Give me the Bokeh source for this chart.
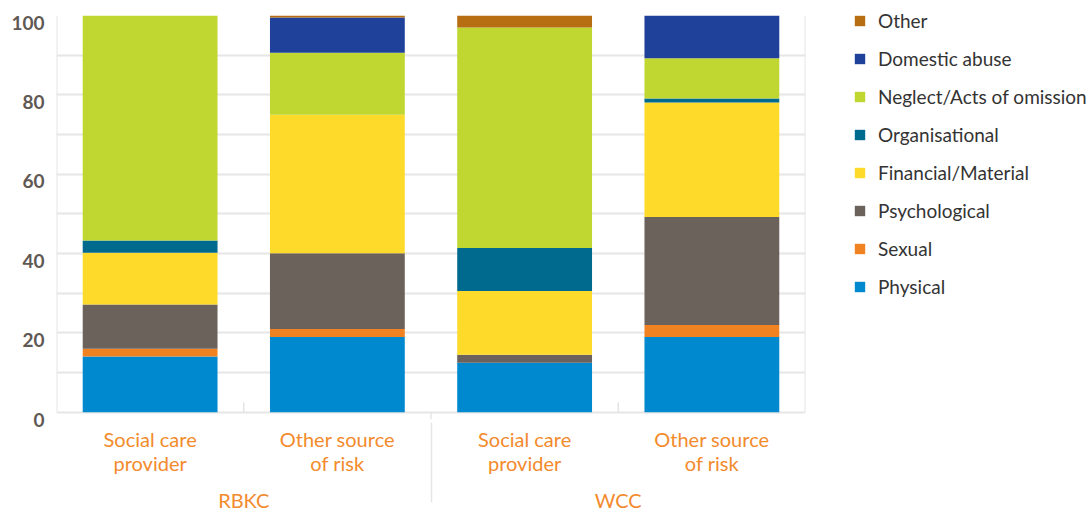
from bokeh.plotting import figure
from bokeh.models import (FactorRange, ColumnDataSource, Legend, LegendItem, Range1d,
                          FixedTicker, LinearAxis)
from bokeh.embed import file_html
from bokeh.resources import INLINE

# ---- data ----
councils = ["RBKC", "RBKC", "WCC", "WCC"]
sources = ["Social care\nprovider", "Other source\nof risk",
           "Social care\nprovider", "Other source\nof risk"]

series_names = ["Physical", "Sexual", "Psychological", "Financial/Material",
                "Organisational", "Neglect/Acts of omission", "Domestic abuse", "Other"]
physical = [14.1, 19.0, 12.5, 19.0]
sexual = [1.9, 2.0, 0.0, 3.0]
psychological = [11.2, 19.1, 2.0, 27.2]
financial = [13.0, 34.9, 16.1, 28.9]
organisational = [3.1, 0.0, 10.8, 1.0]
neglect = [56.7, 15.6, 55.6, 10.1]
domestic = [0.0, 8.9, 0.0, 10.8]
other = [0.0, 0.5, 3.0, 0.0]

y_ticks = [0, 20, 40, 60, 80, 100]
grid_ticks = [0, 10, 20, 30, 40, 50, 60, 70, 80, 90, 100]

colors = ["#0089cf", "#f18221", "#6b625c", "#fedb2a",
          "#006a8e", "#bfd730", "#1f419a", "#b76e13"]

# group labels get a leading blank line (with tight line height) to sit lower
factors = [("\n" + c, s) for c, s in zip(councils, sources)]
keys = ["s%d" % i for i in range(len(series_names))]
src = ColumnDataSource(dict(x=factors, s0=physical, s1=sexual, s2=psychological,
                            s3=financial, s4=organisational, s5=neglect,
                            s6=domestic, s7=other))

FONT = "Lato"
ORANGE = "#f38a2c"
GRID = "#e6e6e6"
SHIFT = 1.8  # tick labels sit slightly below their gridlines
PX_PER_UNIT = 3.97

p = figure(x_range=FactorRange(*factors, range_padding=0, factor_padding=0,
                               group_padding=0),
           y_range=Range1d(-SHIFT, 100),
           frame_width=749, frame_height=int(round((100 + SHIFT) * PX_PER_UNIT)),
           min_border_left=56, min_border_right=286,
           min_border_top=15, min_border_bottom=93,
           y_axis_location=None,
           output_backend="svg", toolbar_location=None)

renderers = p.vbar_stack(keys, x="x", width=0.72, color=colors, source=src,
                         line_color=None)

n = len(factors)
# frame edges (left / right) from 0 to 100
p.segment(x0=[0, n], x1=[0, n], y0=[0, 0], y1=[100, 100],
          line_color=GRID, line_width=2)
# small tick marks at boundaries between bars inside a group
inner = [i + 1 for i in range(n - 1) if councils[i] == councils[i + 1]]
p.segment(x0=inner, x1=inner, y0=[0] * len(inner), y1=[2.5] * len(inner),
          line_color="#e3e3e3", line_width=1.5)
# group separator continues down to the axis
outer = [i + 1 for i in range(n - 1) if councils[i] != councils[i + 1]]
p.segment(x0=outer, x1=outer, y0=[-SHIFT] * len(outer), y1=[0] * len(outer),
          line_color=GRID, line_width=1.5)

# grid / outline
p.xgrid.grid_line_color = None
p.ygrid.ticker = FixedTicker(ticks=grid_ticks)
p.ygrid.grid_line_color = GRID
p.ygrid.grid_line_width = 2
p.outline_line_color = None
p.background_fill_color = "white"
p.border_fill_color = "white"

# y axis (on a range shifted a little so labels sit just under gridlines)
p.extra_y_ranges = {"lbl": Range1d(0, 100 + SHIFT)}
ya = LinearAxis(y_range_name="lbl", ticker=FixedTicker(ticks=y_ticks))
ya.axis_line_color = None
ya.major_tick_line_color = None
ya.minor_tick_line_color = None
ya.major_label_text_font = FONT
ya.major_label_text_font_style = "bold"
ya.major_label_text_font_size = "19px"
ya.major_label_text_color = "#5f5853"
ya.major_label_standoff = 6
p.add_layout(ya, "left")

# x axis
xa = p.xaxis[0]
xa.axis_line_color = None
xa.major_tick_line_color = None
xa.minor_tick_line_color = None
xa.major_label_text_font = FONT
xa.major_label_text_font_size = "20px"
xa.major_label_text_color = ORANGE
xa.major_label_text_line_height = 1.0
xa.major_label_standoff = 1
xa.group_text_font = FONT
xa.group_text_font_size = "20px"
xa.group_text_color = ORANGE
xa.group_text_font_style = "normal"
xa.group_text_line_height = 0.38
xa.separator_line_color = GRID
xa.separator_line_width = 1.5

# legend (top item = last series)
items = [LegendItem(label=series_names[i], renderers=[renderers[i]])
         for i in reversed(range(len(series_names)))]
legend = Legend(items=items, location=(48, 121), orientation="vertical",
                border_line_color=None, background_fill_alpha=0,
                margin=0, padding=0, spacing=15,
                glyph_width=13, glyph_height=13, label_height=13,
                label_standoff=12, label_text_font=FONT,
                label_text_font_size="19px", label_text_color="#333333")
p.add_layout(legend, "right")

open("out.html", "w").write(file_html(p, INLINE))
